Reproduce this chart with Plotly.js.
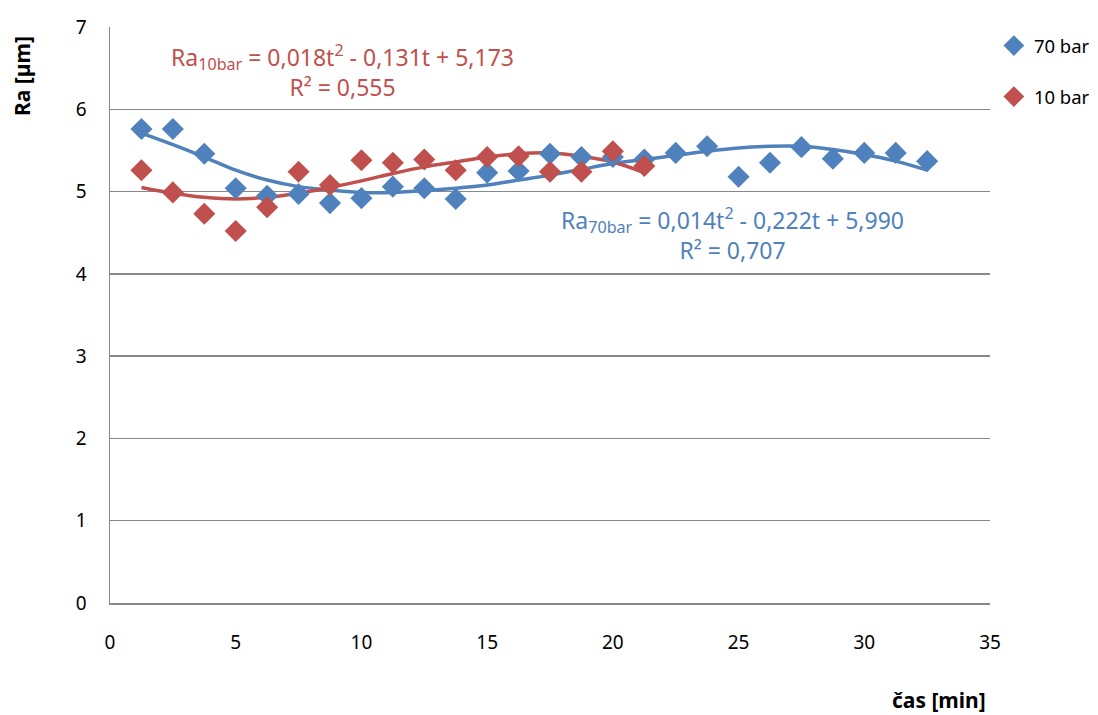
<!DOCTYPE html>
<html><head><meta charset="utf-8">
<script src="https://cdn.plot.ly/plotly-3.0.1.min.js"></script>
<style>body{margin:0;background:#fff}#chart{width:1098px;height:715px}</style>
</head><body><div id="chart"></div>
<script>
// time values [min]
const t70 = [1.25,2.5,3.75,5,6.25,7.5,8.75,10,11.25,12.5,13.75,15,16.25,17.5,18.75,20,21.25,22.5,23.75,25,26.25,27.5,28.75,30,31.25,32.5];
const ra70 = [5.76,5.76,5.46,5.04,4.95,4.97,4.86,4.92,5.06,5.04,4.91,5.23,5.25,5.46,5.42,5.42,5.39,5.47,5.55,5.18,5.35,5.54,5.40,5.47,5.47,5.37];
const t10 = [1.25,2.5,3.75,5,6.25,7.5,8.75,10,11.25,12.5,13.75,15,16.25,17.5,18.75,20,21.25];
const ra10 = [5.26,4.99,4.73,4.52,4.81,5.24,5.08,5.38,5.35,5.39,5.26,5.42,5.43,5.24,5.24,5.49,5.31];
// trendline values
const trend70 = [5.71,5.57,5.42,5.26,5.14,5.06,5.02,4.99,4.99,5.01,5.04,5.08,5.14,5.20,5.27,5.34,5.39,5.44,5.49,5.53,5.55,5.55,5.51,5.45,5.37,5.26];
const trend10 = [5.05,4.98,4.93,4.91,4.93,4.98,5.05,5.13,5.22,5.30,5.36,5.42,5.46,5.47,5.43,5.36,5.23];
const eq10 = "Ra<sub>10bar</sub> = 0,018t<sup>2</sup> - 0,131t + 5,173<br>R² = 0,555";
const eq70 = "Ra<sub>70bar</sub> = 0,014t<sup>2</sup> - 0,222t + 5,990<br>R² = 0,707";
const blue = "#4F81BD", red = "#C0504D";
const FONT = "Noto Sans";

const traces = [
  {x:t70, y:trend70, mode:"lines", line:{color:blue, width:3.5, shape:"spline", smoothing:1}, showlegend:false, hoverinfo:"skip"},
  {x:t10, y:trend10, mode:"lines", line:{color:red, width:3.5, shape:"spline", smoothing:1}, showlegend:false, hoverinfo:"skip"},
  {x:t70, y:ra70, mode:"markers", name:"70 bar", legendgroup:"a", marker:{symbol:"diamond", size:17, color:blue}},
  {x:t10, y:ra10, mode:"markers", name:"10 bar", legendgroup:"b", marker:{symbol:"diamond", size:17, color:red}}
];
const layout = {
  width:1098, height:715,
  margin:{l:110, r:108, t:27, b:112, autoexpand:false},
  paper_bgcolor:"#fff", plot_bgcolor:"#fff",
  font:{family:FONT, size:19, color:"#000"},
  xaxis:{range:[0,35], dtick:5, tick0:0, showgrid:false, zeroline:false, showline:true, linecolor:"#888", linewidth:1.5, ticks:"", tickfont:{size:19}, ticklabelstandoff:22, automargin:false},
  yaxis:{range:[0,7], dtick:1, tick0:0, showgrid:true, gridcolor:"#888", gridwidth:1.3, zeroline:false, showline:true, linecolor:"#888", linewidth:1.5, ticks:"", tickfont:{size:19}, ticklabelstandoff:18, automargin:false},
  showlegend:true,
  legend:{x:0.001, y:1.0, xanchor:"left", yanchor:"top", font:{size:18.5}, traceorder:"grouped", tracegroupgap:24, bgcolor:"rgba(0,0,0,0)", itemwidth:30},
  annotations:[
    {text:eq10, x:342, y:71, showarrow:false, font:{size:23, color:red}, align:"center"},
    {text:eq70, x:732, y:234, showarrow:false, font:{size:23, color:blue}, align:"center"},
    {text:"<b>čas [min]</b>", x:939, y:700, showarrow:false, font:{size:21}},
    {text:"<b>Ra [µm]</b>", x:22, y:76, showarrow:false, textangle:-90, font:{size:21}}
  ]
};
// convert pixel-placed annotations into paper coords
const pw = 1098-110-108, ph = 715-27-112;
layout.legend.x = 1 + layout.legend.x + (993-990)/pw;
layout.annotations.forEach(a=>{a.xref="paper"; a.yref="paper"; a.x=(a.x-110)/pw; a.y=1-(a.y-27)/ph; a.xanchor="center"; a.yanchor="middle";});
Plotly.newPlot("chart", traces, layout, {displayModeBar:false, staticPlot:true});
</script></body></html>
